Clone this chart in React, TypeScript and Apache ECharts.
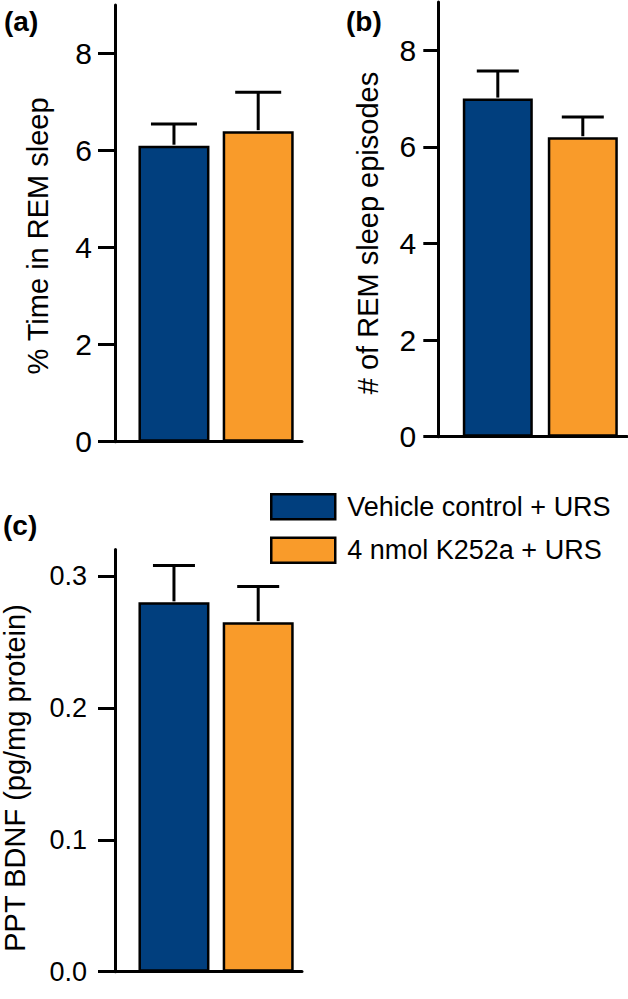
import React, { useEffect, useRef } from "react";
import * as echarts from "echarts";

const groups = ["Vehicle control + URS", "4 nmol K252a + URS"];
const groupColors = ["#013f7e", "#f99b2a"];
const xPositions = [1, 2];

const remTimeMean = [6.1, 6.4];
const remTimeSem = [0.45, 0.8];
const remEpisodesMean = [7.0, 6.2];
const remEpisodesSem = [0.57, 0.42];
const bdnfMean = [0.28, 0.265];
const bdnfSem = [0.028, 0.027];

const remTicks = [0, 2, 4, 6, 8];
const bdnfTicks = [0, 0.1, 0.2, 0.3];

const panelLabels = ["(a)", "(b)", "(c)"];
const yTitles = ["% Time in REM sleep", "# of REM sleep episodes", "PPT BDNF (pg/mg protein)"];

const FONT = "'Liberation Sans', Arial, Helvetica, sans-serif";

const panels = [
  {
    mean: remTimeMean, sem: remTimeSem, ticks: remTicks, yMax: 9, digits: 0,
    grid: { left: 115, top: 5, width: 187, height: 436.7 },
    barWidth: 71, tickLen: 17, labelMargin: 23, fontSize: 30, cap: 46,
  },
  {
    mean: remEpisodesMean, sem: remEpisodesSem, ticks: remTicks, yMax: 9, digits: 0,
    grid: { left: 438.3, top: 2, width: 188.7, height: 434.7 },
    barWidth: 70, tickLen: 15, labelMargin: 22, fontSize: 30, cap: 42,
  },
  {
    mean: bdnfMean, sem: bdnfSem, ticks: bdnfTicks, yMax: 0.32, digits: 1,
    grid: { left: 115, top: 549.6, width: 187, height: 422.1 },
    barWidth: 71, tickLen: 17, labelMargin: 28, fontSize: 27, cap: 42,
  },
];

export default function App() {
  const ref = useRef<HTMLDivElement>(null);
  useEffect(() => {
    document.body.style.margin = "0";
    if (!ref.current) return;
    const chart = echarts.init(ref.current, undefined, { renderer: "svg" });

    const grids: any[] = [];
    const xAxes: any[] = [];
    const yAxes: any[] = [];
    const series: any[] = [];

    panels.forEach((p, pi) => {
      grids.push({ ...p.grid, containLabel: false });
      xAxes.push({
        type: "value", gridIndex: pi, min: 0.3, max: 2.52,
        axisLine: { show: true, lineStyle: { color: "#000", width: 3 } },
        axisTick: { show: false }, axisLabel: { show: false }, splitLine: { show: false },
      });
      yAxes.push({
        type: "value", gridIndex: pi, min: 0, max: p.yMax,
        axisLine: { show: true, lineStyle: { color: "#000", width: 3 } },
        axisTick: { show: true, length: p.tickLen, customValues: p.ticks, lineStyle: { color: "#000", width: 3 } },
        axisLabel: {
          show: true, customValues: p.ticks, margin: p.labelMargin,
          fontSize: p.fontSize, color: "#000", fontFamily: FONT,
          formatter: (v: number) => v.toFixed(p.digits),
        },
        splitLine: { show: false },
      });
      groups.forEach((g, gi) => {
        series.push({
          type: "bar", name: g, xAxisIndex: pi, yAxisIndex: pi,
          barWidth: p.barWidth, barGap: "-100%",
          data: [[xPositions[gi], p.mean[gi]]],
          itemStyle: { color: groupColors[gi], borderColor: "#000", borderWidth: 2.5 },
          z: 2,
        });
      });
      series.push({
        type: "custom", name: "err" + pi, xAxisIndex: pi, yAxisIndex: pi,
        data: p.mean.map((m, i) => [xPositions[i], m, p.sem[i]]),
        encode: { x: 0, y: 1 }, clip: false, z: 3,
        renderItem: (params: any, api: any) => {
          const x = api.value(0), m = api.value(1), e = api.value(2);
          const base = api.coord([x, m]);
          const top = api.coord([x, m + e]);
          const hw = p.cap / 2;
          const st = { stroke: "#000", lineWidth: 3, fill: "none" };
          return {
            type: "group",
            children: [
              { type: "line", shape: { x1: base[0], y1: base[1] - 1, x2: top[0], y2: top[1] }, style: st },
              { type: "line", shape: { x1: top[0] - hw, y1: top[1], x2: top[0] + hw, y2: top[1] }, style: st },
            ],
          };
        },
      });
    });

    const graphic: any[] = [
      { type: "text", left: 4, top: 7, style: { text: panelLabels[0], font: `bold 28px ${FONT}`, fill: "#000" } },
      { type: "text", left: 346, top: 7, style: { text: panelLabels[1], font: `bold 28px ${FONT}`, fill: "#000" } },
      { type: "text", left: 3, top: 511, style: { text: panelLabels[2], font: `bold 28px ${FONT}`, fill: "#000" } },
      { type: "text", x: 38, y: 236, rotation: Math.PI / 2, style: { text: yTitles[0], font: `29px ${FONT}`, fill: "#000", align: "center", verticalAlign: "middle" } },
      { type: "text", x: 368, y: 233, rotation: Math.PI / 2, style: { text: yTitles[1], font: `29px ${FONT}`, fill: "#000", align: "center", verticalAlign: "middle" } },
      { type: "text", x: 15, y: 778, rotation: Math.PI / 2, style: { text: yTitles[2], font: `29px ${FONT}`, fill: "#000", align: "center", verticalAlign: "middle" } },
    ];

    chart.setOption({
      animation: false,
      backgroundColor: "#fff",
      grid: grids,
      xAxis: xAxes,
      yAxis: yAxes,
      series,
      graphic,
      legend: {
        data: groups, orient: "vertical", left: 265, top: 488,
        itemWidth: 64, itemHeight: 25, itemGap: 16, selectedMode: false, icon: "rect",
        itemStyle: { borderColor: "#000", borderWidth: 2.5 },
        textStyle: { fontSize: 27, color: "#000", fontFamily: FONT, lineHeight: 25, padding: [0, 0, 0, 7] },
      },
    });
    return () => chart.dispose();
  }, []);
  return <div ref={ref} style={{ width: 628, height: 999 }} />;
}
